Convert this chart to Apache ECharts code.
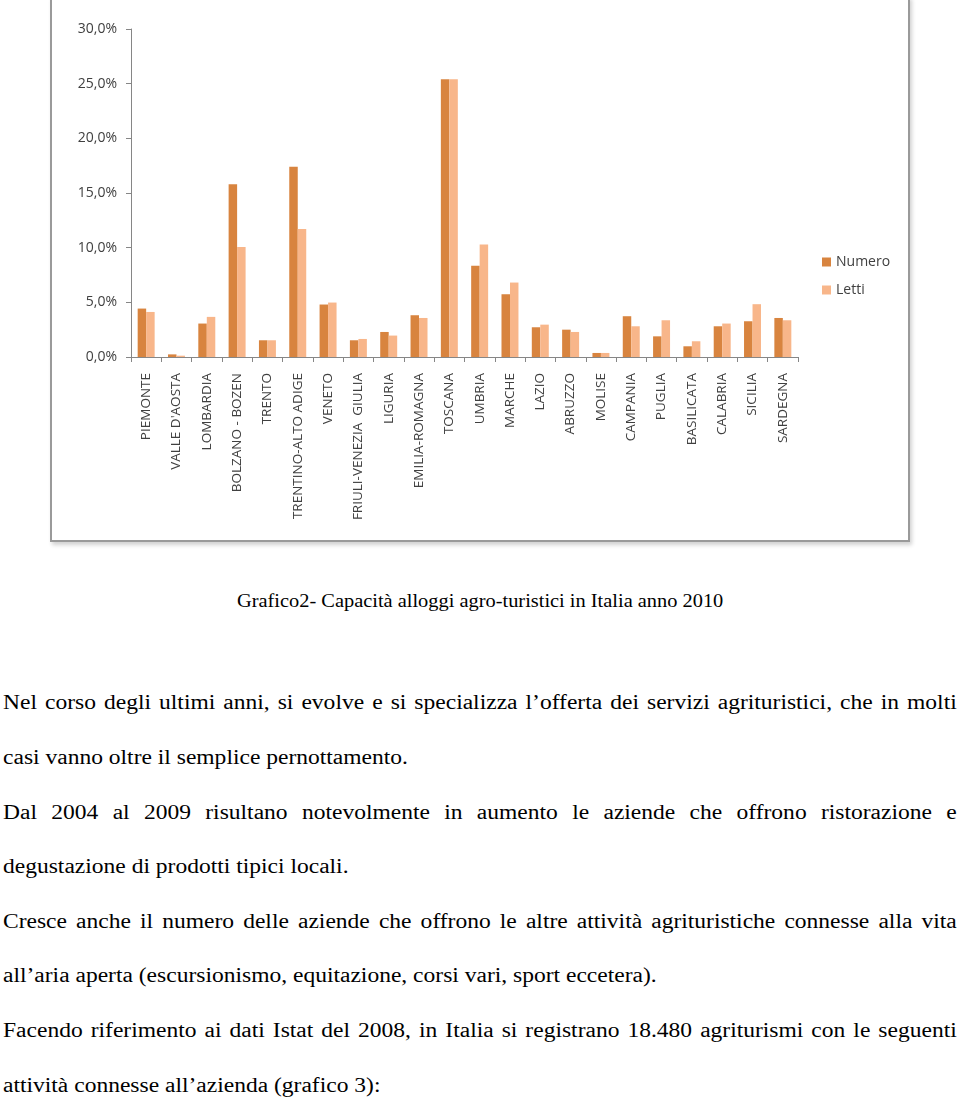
<!DOCTYPE html>
<html>
<head>
<meta charset="utf-8">
<script src="https://cdn.jsdelivr.net/npm/echarts@6/dist/echarts.min.js"></script>
<style>
  html, body { margin: 0; padding: 0; background: #fff; }
  body { width: 960px; height: 1101px; position: relative; overflow: hidden; }
  #frame { position: absolute; left: 50px; top: -4px; width: 856px; height: 542px;
           border: 2px solid #9a9a9a; border-top-color: #e6e6e6;
           box-shadow: 2px 3px 4px rgba(0,0,0,0.18); background: #fff; }
  #chart { position: absolute; left: 0; top: 0; width: 960px; height: 545px; }
  .t { position: absolute; font-family: "Liberation Serif", "Times New Roman", serif;
       color: #000; white-space: nowrap; transform-origin: 0 50%; }
  .cap { font-size: 19px; line-height: 20px; left: 237px; transform: scaleX(1.073); }
  .ln { font-size: 20px; line-height: 22px; left: 3px; transform: scaleX(1.176); }
  .j { width: 811px; text-align: justify; text-align-last: justify; }
</style>
</head>
<body>
<div id="frame"></div>
<div id="chart"></div>

<div class="t cap" style="top:591px;">Grafico2- Capacità alloggi agro-turistici in Italia anno 2010</div>

<div class="t ln j" style="top:691px;">Nel corso degli ultimi anni, si evolve e si specializza l’offerta dei servizi agrituristici, che in molti</div>
<div class="t ln" style="top:746px;">casi vanno oltre il semplice pernottamento.</div>
<div class="t ln j" style="top:801px;">Dal 2004 al 2009 risultano notevolmente in aumento le aziende che offrono ristorazione e</div>
<div class="t ln" style="top:855px;">degustazione di prodotti tipici locali.</div>
<div class="t ln j" style="top:910px;">Cresce anche il numero delle aziende che offrono le altre attività agrituristiche connesse alla vita</div>
<div class="t ln" style="top:964px;">all’aria aperta (escursionismo, equitazione, corsi vari, sport eccetera).</div>
<div class="t ln j" style="top:1019px;">Facendo riferimento ai dati Istat del 2008, in Italia si registrano 18.480 agriturismi con le seguenti</div>
<div class="t ln" style="top:1074px;">attività connesse all’azienda (grafico 3):</div>

<script>
const categories = ["PIEMONTE", "VALLE D'AOSTA", "LOMBARDIA", "BOLZANO - BOZEN", "TRENTO",
  "TRENTINO-ALTO ADIGE", "VENETO", "FRIULI-VENEZIA  GIULIA", "LIGURIA", "EMILIA-ROMAGNA",
  "TOSCANA", "UMBRIA", "MARCHE", "LAZIO", "ABRUZZO", "MOLISE", "CAMPANIA", "PUGLIA",
  "BASILICATA", "CALABRIA", "SICILIA", "SARDEGNA"];
const numero = [4.43, 0.24, 3.06, 15.8, 1.53, 17.4, 4.8, 1.53, 2.29, 3.82, 25.4,
  8.34, 5.74, 2.72, 2.5, 0.37, 3.73, 1.89, 0.98, 2.81, 3.27, 3.57];
const letti = [4.12, 0.12, 3.67, 10.05, 1.53, 11.7, 4.98, 1.65, 1.96, 3.57, 25.4,
  10.3, 6.81, 2.96, 2.29, 0.37, 2.81, 3.36, 1.44, 3.06, 4.83, 3.36];
const seriesNames = ["Numero", "Letti"];
const seriesColors = ["#d8843f", "#f8b68a"];

const chart = echarts.init(document.getElementById('chart'), null, { renderer: 'canvas' });
const labelFont = '"Open Sans", "Liberation Sans", sans-serif';
chart.setOption({
  animation: false,
  backgroundColor: 'transparent',
  grid: { left: 131, right: 162, top: 29, height: 328, containLabel: false },
  legend: {
    orient: 'vertical', left: 817, top: 250,
    icon: 'rect', itemWidth: 9, itemHeight: 9, itemGap: 14,
    textStyle: { fontFamily: labelFont, fontSize: 14, color: '#404040', lineHeight: 14 },
    data: seriesNames
  },
  xAxis: {
    type: 'category', data: categories,
    axisLine: { lineStyle: { color: '#868686', width: 1 } },
    axisTick: { show: true, length: 5, lineStyle: { color: '#868686' } },
    axisLabel: { rotate: 90, interval: 0, margin: 16, fontFamily: labelFont, fontSize: 13.5, color: '#404040' }
  },
  yAxis: {
    type: 'value', min: 0, max: 30, interval: 5,
    splitLine: { show: false },
    axisLine: { show: true, lineStyle: { color: '#868686', width: 1 } },
    axisTick: { show: true, length: 5, lineStyle: { color: '#868686' } },
    axisLabel: {
      margin: 14, fontFamily: labelFont, fontSize: 14, color: '#404040',
      formatter: v => v.toFixed(1).replace('.', ',') + '%'
    }
  },
  series: [
    { name: seriesNames[0], type: 'bar', data: numero, barWidth: '28%', barGap: '0%',
      itemStyle: { color: seriesColors[0] } },
    { name: seriesNames[1], type: 'bar', data: letti, barWidth: '28%', barGap: '0%',
      itemStyle: { color: seriesColors[1] } }
  ]
});
</script>
</body>
</html>
